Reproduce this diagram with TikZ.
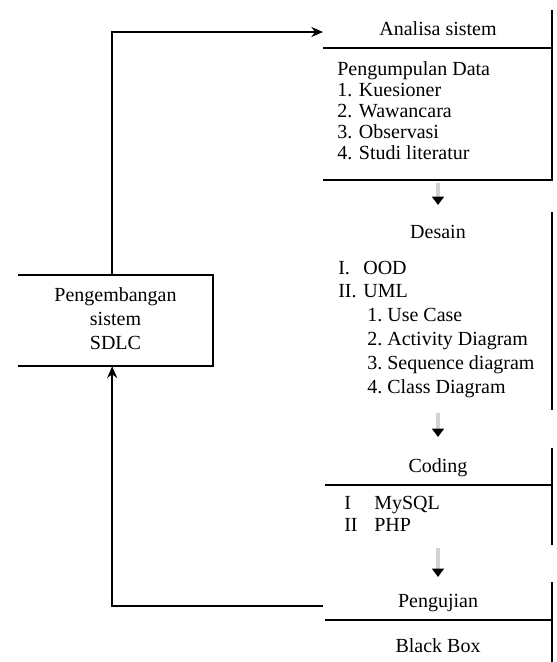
\documentclass[tikz,border=0pt]{standalone}
\usepackage{fontspec}
\setmainfont{Liberation Serif}
\usetikzlibrary{arrows.meta,positioning}
\tikzset{
  ttl/.style={font=\fontsize{12}{14}\selectfont,inner sep=0pt,anchor=base},
  body/.style={font=\fontsize{12}{#1}\selectfont,inner sep=0pt,anchor=base west},
  ln/.style={line width=1.3pt,black},
  arr/.style={line width=1.3pt,-{Stealth[length=7pt,width=6pt]}},
  garr/.style={line width=2.6pt,draw=gray!35,
               -{Triangle[length=5pt,width=7pt,color=black]}},
  sdlcbox/.style={minimum width=117pt,minimum height=54.6pt,inner sep=0pt,
                  font=\fontsize{12}{14.4}\selectfont},
}

\begin{document}
\begin{tikzpicture}[x=0.6pt,y=-0.6pt]
  \useasboundingbox (0,0) rectangle (557,662);

  % left box
  \node[sdlcbox] (sdlc) at (115.5,320.5)
    {\begin{tabular}{@{}c@{}}Pengembangan\\sistem\\SDLC\end{tabular}};
  \draw[ln] (sdlc.north west) -- (sdlc.north east)
            -- (sdlc.south east) -- (sdlc.south west);

  % analisa sistem
  \node[ttl] (anaT) at (438,35) {Analisa sistem};
  \node[body=12.6] (anaB) at (337,75)
    {\begin{tabular}[t]{@{}l@{}}Pengumpulan Data\\1. Kuesioner\\2. Wawancara\\
     3. Observasi\\4. Studi literatur\end{tabular}};
  \draw[ln] (323,48) -- (552,48);
  \draw[ln] (552,10) -- (552,180) -- (323,180);

  % desain
  \node[ttl] (desT) at (438,238) {Desain};
  \node[body=14.3] (desB) at (338,274)
    {\begin{tabular}[t]{@{}p{15pt}@{}p{14.4pt}@{}l@{}}
     I. & \multicolumn{2}{@{}l@{}}{OOD}\\
     II. & \multicolumn{2}{@{}l@{}}{UML}\\
     & \hspace{2.4pt}1. & Use Case\\
     & \hspace{2.4pt}2. & Activity Diagram\\
     & \hspace{2.4pt}3. & Sequence diagram\\
     & \hspace{2.4pt}4. & Class Diagram\end{tabular}};
  \draw[ln] (552,212) -- (552,410);

  % coding
  \node[ttl] (codT) at (438,472) {Coding};
  \node[body=13.2] (codB) at (344,509)
    {\begin{tabular}[t]{@{}p{18pt}@{}l@{}}I & MySQL\\II & PHP\end{tabular}};
  \draw[ln] (325,485) -- (552,485);
  \draw[ln] (552,448) -- (552,545);

  % pengujian
  \node[ttl] (ujiT) at (438,607) {Pengujian};
  \node[ttl] (ujiB) at (438,652) {Black Box};
  \draw[ln] (325,620) -- (552,620);
  \draw[ln] (552,582) -- (552,662);

  % connectors
  \coordinate (anaIn) at (323,32);
  \coordinate (ujiOut) at (323,606);
  \draw[arr] ([xshift=-2pt]sdlc.north) |- (anaIn);
  \draw[arr] (ujiOut) -| ([xshift=-2pt]sdlc.south);

  \coordinate (anaS) at (438,183);
  \coordinate (desN) at (438,205);
  \coordinate (desS) at (438,413);
  \coordinate (codN) at (438,437);
  \coordinate (codS) at (438,548);
  \coordinate (ujiN) at (438,577);
  \foreach \a/\b in {anaS/desN,desS/codN,codS/ujiN}
    \draw[garr] (\a) -- (\b);
\end{tikzpicture}
\end{document}
